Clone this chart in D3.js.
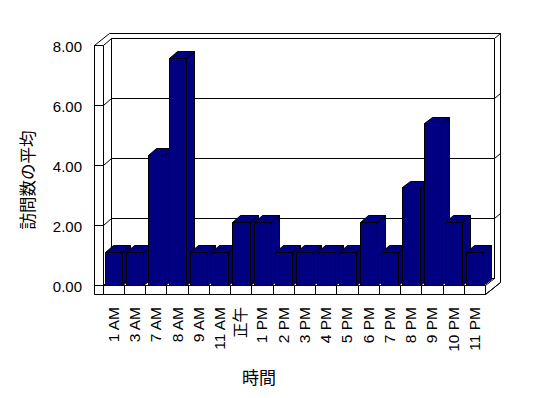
<!DOCTYPE html>
<html>
<head>
<meta charset="utf-8">
<script src="https://cdn.jsdelivr.net/npm/d3@7"></script>
<style>
body{margin:0;background:#fff;}
text{font-family:"Liberation Sans",Arial,"Noto Sans CJK JP",sans-serif;fill:#000;}
.jp{font-family:"Noto Sans CJK JP",sans-serif;}
</style>
</head>
<body>
<div id="chart"></div>
<script>
// data
var hours = ["1 AM","3 AM","7 AM","8 AM","9 AM","11 AM","正午","1 PM","2 PM","3 PM","4 PM","5 PM","6 PM","7 PM","8 PM","9 PM","10 PM","11 PM"];
var visits = [1,1,4.22,7.45,1,1,2,2,1,1,1,1,2,1,3.14,5.27,2,1];
var yTicks = [0,2,4,6,8];
var yTitle = "訪問数の平均";
var xTitle = "時間";

var width = 548, height = 398;

var x = d3.scaleBand().domain(hours).range([102.7,485]);
var y = d3.scaleLinear().domain([0,8]).range([285,45]);

var dx = 8.5, dy = 7;     // depth of floor / walls
var tx = 6.4, ty = 5;     // back wall thickness
var x0 = 94;              // outer edge of left wall
var slab = 9;             // floor thickness
var bdx = 8, bdy = 6.5;   // bar depth

var x1 = x.range()[0], x2 = x.range()[1];
var y0 = y(0), y8 = y(8);

var svg = d3.select("#chart").append("svg")
	.attr("width",width)
	.attr("height",height);

function pt(p){ return [Math.round(p[0])+0.5, Math.round(p[1])+0.5]; }

function poly(g, pts, fill){
	return g.append("path")
		.attr("d", d3.line()(pts.map(pt)) + "Z")
		.style("fill", fill || "#fff")
		.style("stroke","#000")
		.style("stroke-width",1);
}
function line(g, a, b){
	return g.append("path")
		.attr("d", d3.line()([pt(a),pt(b)]))
		.style("fill","none")
		.style("stroke","#000")
		.style("stroke-width",1);
}

var frame = svg.append("g");

// outline of walls and floor
poly(frame, [[x0,y8],[x0+dx+tx,y8-dy-ty],[x2+dx+tx,y8-dy-ty],[x2+dx+tx,y0-dy-ty+slab],[x2,y0+slab],[x0,y0+slab]]);

// left wall front face
poly(frame, [[x0,y8],[x1,y8],[x1,y0+slab],[x0,y0+slab]]);
// left wall inner face
poly(frame, [[x1,y8],[x1+dx,y8-dy],[x1+dx,y0-dy],[x1,y0]]);
// back wall
poly(frame, [[x1+dx,y8-dy],[x2+dx,y8-dy],[x2+dx,y0-dy],[x1+dx,y0-dy]]);
line(frame, [x2+dx,y8-dy], [x2+dx+tx,y8-dy-ty]);
// floor top and front
poly(frame, [[x1,y0],[x2,y0],[x2+dx,y0-dy],[x1+dx,y0-dy]]);
poly(frame, [[x1,y0],[x2,y0],[x2,y0+slab],[x1,y0+slab]]);
line(frame, [x2,y0+slab], [x2+dx+tx,y0-dy-ty+slab]);

// category ticks on the floor front
hours.slice(1).forEach(function(h){
	line(frame, [x(h),y0], [x(h),y0+slab]);
});

// gridlines
yTicks.forEach(function(v){
	line(frame, [x0,y(v)], [x1,y(v)]);
	if(v>0 && v<8){
		line(frame, [x1,y(v)], [x1+dx,y(v)-dy]);
		line(frame, [x1+dx,y(v)-dy], [x2+dx,y(v)-dy]);
		line(frame, [x2+dx,y(v)-dy], [x2+dx+tx,y(v)-dy-ty]);
	}
});

// bars
var bw = x.bandwidth()*0.81, boff = x.bandwidth()*0.11;
var navy = "#000080";
var bars = svg.append("g").selectAll("g")
	.data(hours.map(function(h,i){ return {h:h, v:visits[i]}; }))
	.enter()
	.append("g");

bars.each(function(d){
	var g = d3.select(this);
	var l = x(d.h)+boff, r = l+bw, t = y(d.v)-3.5, b = y0;
	poly(g, [[r,t],[r+bdx,t-bdy],[r+bdx,b-bdy],[r,b]], navy);
	poly(g, [[l,t],[l+bdx,t-bdy],[r+bdx,t-bdy],[r,t]], navy);
	poly(g, [[l,t],[r,t],[r,b],[l,b]], navy);
});

// y labels
svg.append("g").selectAll("text")
	.data(yTicks)
	.enter()
	.append("text")
	.attr("x",82)
	.attr("y",function(d){return y(d)+1;})
	.attr("text-anchor","end")
	.attr("dominant-baseline","central")
	.style("font-size","15px")
	.text(d3.format(".2f"));

// x labels
svg.append("g").selectAll("text")
	.data(hours)
	.enter()
	.append("text")
	.attr("transform",function(d){return "translate("+(x(d)+x.bandwidth()/2)+",307) rotate(-90)";})
	.attr("text-anchor","end")
	.attr("dominant-baseline","central")
	.style("font-size","15.5px")
	.text(function(d){return d;});

// titles
svg.append("text")
	.attr("class","jp")
	.attr("transform","translate(27,180) rotate(-90)")
	.attr("text-anchor","middle")
	.attr("dominant-baseline","central")
	.style("font-size","16.5px")
	.text(yTitle);

svg.append("text")
	.attr("class","jp")
	.attr("x",259)
	.attr("y",376)
	.attr("text-anchor","middle")
	.attr("dominant-baseline","central")
	.style("font-size","17px")
	.text(xTitle);
</script>
</body>
</html>
